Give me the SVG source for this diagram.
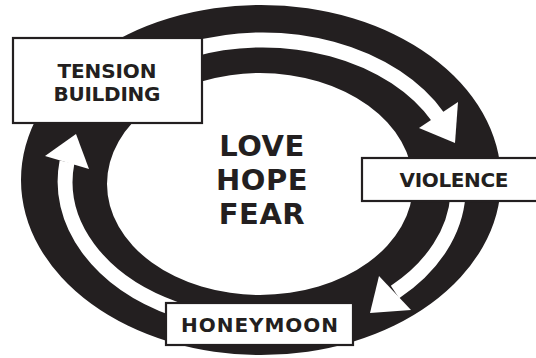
<svg xmlns="http://www.w3.org/2000/svg" width="536" height="358" viewBox="0 0 536 358">
<style>
.ring{fill:#231f20;fill-rule:evenodd}
.stripe{fill:none;stroke:#fff;stroke-width:15}
.head{fill:#fff}
.box{fill:#fff;stroke:#231f20;stroke-width:2.2}
.lbl{font-family:"DejaVu Sans","Liberation Sans",sans-serif;font-weight:bold;font-size:20px;fill:#231f20;text-anchor:middle}
.big{font-family:"DejaVu Sans","Liberation Sans",sans-serif;font-weight:bold;font-size:29px;fill:#231f20;text-anchor:middle;letter-spacing:0.5px}
</style>
<rect width="536" height="358" fill="#fff"/>
<g id="cycle">
<path class="ring" d="M21,180 A240,175 0 1 0 501,180 A240,175 0 1 0 21,180 Z M107,184 A153,111 0 1 1 413,184 A153,111 0 1 1 107,184 Z"/>
</g>
<g id="connectors">
<path class="stripe" d="M190,50 A197,142 0 0 1 438,117"/>
<polygon class="head" points="419,128 458,102 455,143"/>
<path class="stripe" d="M458,195 A197,142 0 0 1 395,292"/>
<polygon class="head" points="379,276 411,310 370,313"/>
<path class="stripe" d="M175,309 A197,142 0 0 1 67,162"/>
<polygon class="head" points="45,156 76,134 89,169"/>
</g>
<g id="center">
<text class="big" x="262" y="156">LOVE</text>
<text class="big" x="262" y="190">HOPE</text>
<text class="big" x="262" y="224">FEAR</text>
</g>
<g id="tension">
<rect class="box" x="13" y="38" width="189" height="85"/>
<text class="lbl" x="107" y="78" textLength="99" lengthAdjust="spacing">TENSION</text>
<text class="lbl" x="107" y="101" textLength="107" lengthAdjust="spacing">BUILDING</text>
</g>
<g id="violence">
<rect class="box" x="362" y="158" width="176" height="43"/>
<text class="lbl" x="454" y="187" textLength="109" lengthAdjust="spacing">VIOLENCE</text>
</g>
<g id="honeymoon">
<rect class="box" x="166" y="303" width="187" height="42"/>
<text class="lbl" x="259.5" y="332" textLength="157" lengthAdjust="spacing">HONEYMOON</text>
</g>
</svg>
